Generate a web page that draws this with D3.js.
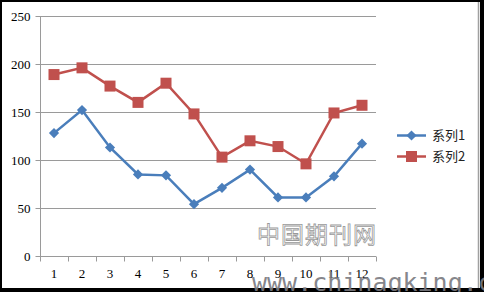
<!DOCTYPE html>
<html><head><meta charset="utf-8">
<script src="https://cdn.jsdelivr.net/npm/d3@7"></script>
<style>body{margin:0;background:#000;}svg{display:block;}</style>
</head><body>
<svg id="c" width="484" height="292"></svg>
<script>
const categories = ["1","2","3","4","5","6","7","8","9","10","11","12"];
const series1 = [128, 152, 113, 85, 84, 54, 71, 90, 61, 61, 83, 117];
const series2 = [189, 196, 177, 160, 180, 148, 103, 120, 114, 96, 149, 157];
const seriesNames = ["系列1", "系列2"];
const yTicks = [0, 50, 100, 150, 200, 250];

const svg = d3.select("#c");
svg.append("rect").attr("x",0).attr("y",0).attr("width",484).attr("height",292).attr("fill","#000");
svg.append("rect").attr("x",2).attr("y",2).attr("width",478).attr("height",286).attr("fill","#fff");
svg.append("line").attr("x1",478.5).attr("x2",478.5).attr("y1",2).attr("y2",288).attr("stroke","#a0a0a0").attr("stroke-width",1.5);

const L = 40, R = 376, T = 16, B = 256;
const x = d3.scaleBand().domain(categories).range([L, R]);
const y = d3.scaleLinear().domain([0, 250]).range([B, T]);

// gridlines
svg.append("g").selectAll("line").data(yTicks.filter(d=>d>0)).join("line")
  .attr("x1", L).attr("x2", R).attr("y1", d=>Math.round(y(d))+0.5).attr("y2", d=>Math.round(y(d))+0.5)
  .attr("stroke", "#9a9a9a").attr("stroke-width", 1);

// y axis
const yAxis = svg.append("g").attr("transform", `translate(${L+0.5},0)`)
  .call(d3.axisLeft(y).tickValues(yTicks).tickSize(5).tickPadding(5));
yAxis.select(".domain").attr("stroke","#9a9a9a").attr("d", `M0,${T}V${B}`);
yAxis.selectAll(".tick line").attr("stroke","#9a9a9a");
yAxis.selectAll("text").attr("font-family","'Liberation Serif', serif").attr("font-size",13).attr("fill","#000");

// x axis
const xa = svg.append("g").attr("transform", `translate(0,${B+0.5})`);
xa.append("line").attr("x1", L).attr("x2", R).attr("stroke", "#9a9a9a");
const bounds = categories.map(c => x(c)).concat([R]);
xa.selectAll("line.t").data(bounds).join("line").attr("class","t")
  .attr("x1", d=>Math.round(d)+0.5).attr("x2", d=>Math.round(d)+0.5).attr("y1",0).attr("y2",5).attr("stroke","#9a9a9a");
xa.selectAll("text").data(categories).join("text")
  .attr("x", d => x(d) + x.bandwidth()/2).attr("y", 21)
  .attr("text-anchor","middle").attr("font-family","'Liberation Serif', serif").attr("font-size",13).attr("fill","#000")
  .text(d=>d);

const cx = d => x(d) + x.bandwidth()/2;
const line = d3.line().x((d,i)=>cx(categories[i])).y(d=>y(d));

const colors = ["#4a7ebb", "#c0504d"];
// series 2
svg.append("path").datum(series2).attr("d", line).attr("fill","none").attr("stroke", colors[1]).attr("stroke-width", 2.5);
svg.append("g").selectAll("rect").data(series2).join("rect")
  .attr("x",(d,i)=>cx(categories[i])-5.5).attr("y", d=>y(d)-5.5).attr("width",11).attr("height",11).attr("fill", colors[1]);
// series 1
svg.append("path").datum(series1).attr("d", line).attr("fill","none").attr("stroke", colors[0]).attr("stroke-width", 2.5);
const diamond = d3.symbol().type(d3.symbolDiamond2 || d3.symbolDiamond).size(80);
svg.append("g").selectAll("path").data(series1).join("path")
  .attr("transform",(d,i)=>`translate(${cx(categories[i])},${y(d)}) rotate(${d3.symbolDiamond2?0:0})`)
  .attr("d", d3.symbol().type(d3.symbolSquare).size(52)).attr("transform",(d,i)=>`translate(${cx(categories[i])},${y(d)}) rotate(45)`)
  .attr("fill", colors[0]);

// legend
const lg = svg.append("g");
const ly = [135.5, 156.5];
seriesNames.forEach((n,i)=>{
  lg.append("line").attr("x1",397).attr("x2",426).attr("y1",ly[i]).attr("y2",ly[i]).attr("stroke",colors[i]).attr("stroke-width",2.5);
  if(i===0){
    lg.append("path").attr("d", d3.symbol().type(d3.symbolSquare).size(52)).attr("transform",`translate(411.5,${ly[i]}) rotate(45)`).attr("fill",colors[i]);
  } else {
    lg.append("rect").attr("x",406).attr("y",ly[i]-5.5).attr("width",11).attr("height",11).attr("fill",colors[i]);
  }
  lg.append("text").attr("x",432).attr("y",ly[i]+4.5).attr("font-family","'Noto Sans CJK SC', sans-serif").attr("font-size",13).attr("fill","#222").text(n);
});

// watermarks
svg.append("text").attr("x",257).attr("y",243).attr("font-family","'Noto Sans CJK SC', sans-serif").attr("font-size",23)
  .attr("fill","none").attr("stroke","#999").attr("stroke-width",0.8).attr("letter-spacing",1).text("中国期刊网");
svg.append("text").attr("x",252).attr("y",291).attr("font-family","'DejaVu Sans Mono', monospace").attr("font-size",25)
  .attr("fill","#7a7a80").attr("opacity",0.9).text("www.chinaqking.com");
</script>
</body></html>
